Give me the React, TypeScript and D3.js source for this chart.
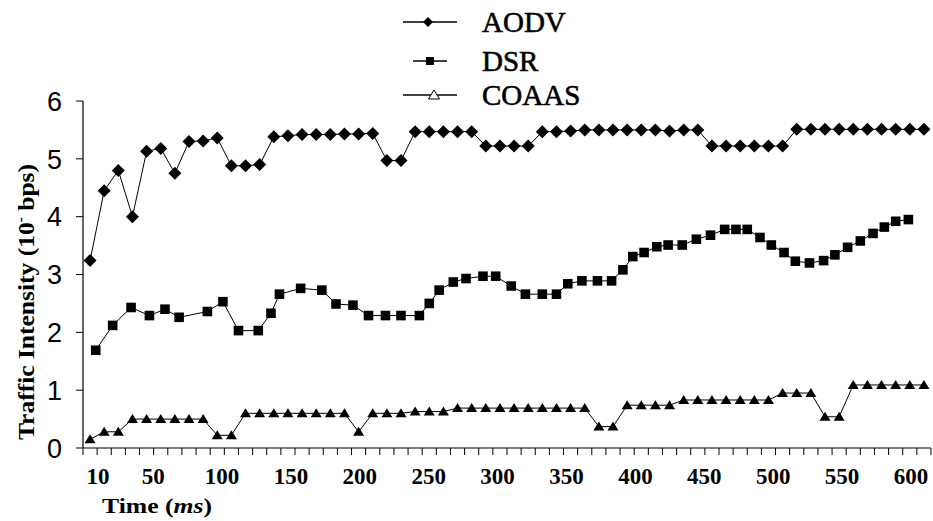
import * as d3 from 'd3';
import React from 'react';

// time categories (ms)
const times = [
  10, 20, 30, 40, 50, 60, 70, 80, 90, 100,
  110, 120, 130, 140, 150, 160, 170, 180, 190, 200,
  210, 220, 230, 240, 250, 260, 270, 280, 290, 300,
  310, 320, 330, 340, 350, 360, 370, 380, 390, 400,
  410, 420, 430, 440, 450, 460, 470, 480, 490, 500,
  510, 520, 530, 540, 550, 560, 570, 580, 590, 600,
];

const aodv = [
  3.24, 4.45, 4.80, 4.00, 5.13, 5.18, 4.75, 5.30, 5.31, 5.36,
  4.88, 4.88, 4.90, 5.38, 5.40, 5.42, 5.42, 5.42, 5.43, 5.43,
  5.44, 4.97, 4.97, 5.47, 5.47, 5.47, 5.47, 5.47, 5.22, 5.22,
  5.22, 5.22, 5.47, 5.47, 5.48, 5.50, 5.50, 5.50, 5.50, 5.50,
  5.50, 5.48, 5.50, 5.50, 5.22, 5.22, 5.22, 5.22, 5.22, 5.22,
  5.51, 5.51, 5.51, 5.51, 5.51, 5.51, 5.51, 5.51, 5.51, 5.51,
];

// DSR points are not on the category grid
const dsrTimes = [
  14, 26, 39, 52, 63, 73, 93, 104, 115, 129,
  138, 144, 159, 174, 184, 196, 207, 219, 230, 243,
  250, 257, 267, 276, 288, 297, 308, 318, 330, 340,
  348, 358, 369, 379, 387, 394, 402, 411, 419, 429,
  439, 449, 459, 467, 475, 484, 492, 501, 509, 519,
  529, 537, 546, 555, 564, 572, 580, 589,
];
const dsr = [
  1.69, 2.12, 2.43, 2.29, 2.40, 2.26, 2.36, 2.53, 2.03, 2.03,
  2.33, 2.66, 2.76, 2.73, 2.49, 2.47, 2.29, 2.29, 2.29, 2.29,
  2.50, 2.73, 2.87, 2.93, 2.97, 2.97, 2.80, 2.66, 2.66, 2.66,
  2.84, 2.89, 2.89, 2.89, 3.08, 3.31, 3.38, 3.48, 3.51, 3.51,
  3.61, 3.68, 3.78, 3.78, 3.78, 3.64, 3.51, 3.38, 3.23, 3.20,
  3.24, 3.34, 3.47, 3.58, 3.71, 3.82, 3.92, 3.95,
];

const coaas = [
  0.15, 0.28, 0.28, 0.50, 0.50, 0.50, 0.50, 0.50, 0.50, 0.22,
  0.22, 0.60, 0.60, 0.60, 0.60, 0.60, 0.60, 0.60, 0.60, 0.28,
  0.60, 0.60, 0.60, 0.63, 0.63, 0.63, 0.69, 0.69, 0.69, 0.69,
  0.69, 0.69, 0.69, 0.69, 0.69, 0.69, 0.37, 0.37, 0.74, 0.74,
  0.74, 0.74, 0.83, 0.83, 0.83, 0.83, 0.83, 0.83, 0.83, 0.95,
  0.95, 0.95, 0.54, 0.54, 1.09, 1.09, 1.09, 1.09, 1.09, 1.09,
];

const xTickLabels = [10, 50, 100, 150, 200, 250, 300, 350, 400, 450, 500, 550, 600];
const yTicks = [0, 1, 2, 3, 4, 5, 6];
const seriesNames = ['AODV', 'DSR', 'COAAS'];

const width = 933;
const height = 521;
const marginLeft = 83;
const marginRight = 2;
const marginTop = 101;
const marginBottom = 73;

const serifStyle = { fontFamily: "'Liberation Serif', 'Times New Roman', Times, serif" };
const narrowStyle = { fontFamily: "'Liberation Sans Narrow', 'Liberation Sans', Arial, sans-serif" };

const diamond = (cx, cy, r) => `M${cx},${cy - r}L${cx + r},${cy}L${cx},${cy + r}L${cx - r},${cy}Z`;
const square = (cx, cy, r) => `M${cx - r},${cy - r}h${2 * r}v${2 * r}h${-2 * r}Z`;
const triangle = (cx, cy, r) => `M${cx},${cy - r}L${cx + r * 1.1},${cy + r * 0.8}L${cx - r * 1.1},${cy + r * 0.8}Z`;

export default function App() {
  const x = d3.scaleLinear().domain([5, 605]).range([marginLeft, width - marginRight]);
  const y = d3.scaleLinear().domain([0, 6]).range([height - marginBottom, marginTop]);
  // labels were placed as a separate text row, slightly compressed
  const xLabel = d3.scaleLinear().domain([10, 600]).range([x(10) + 8, x(600) - 13]);

  const line = d3.line<[number, number]>().x(d => x(d[0])).y(d => y(d[1]));

  const aodvPts = times.map((t, i) => [t, aodv[i]] as [number, number]);
  const dsrPts = dsrTimes.map((t, i) => [t, dsr[i]] as [number, number]);
  const coaasPts = times.map((t, i) => [t, coaas[i]] as [number, number]);

  const xTicks = times.map(t => t - 5).concat([605]);
  const y0 = y(0);

  // legend rows
  const legendX = 430;
  const legendRows = [22, 61, 95];

  return (
    <svg width={width} height={height} style={{ position: 'absolute', left: 0, top: 0, background: '#fff' }}>
      {/* axes */}
      <line x1={x(5)} x2={x(605)} y1={y0} y2={y0} stroke="#000" strokeWidth={1.2} />
      <line x1={marginLeft} x2={marginLeft} y1={y(6)} y2={y0} stroke="#000" strokeWidth={1.2} />
      {xTicks.map(t => (
        <line key={'xt' + t} x1={x(t)} x2={x(t)} y1={y0} y2={y0 + 7} stroke="#000" strokeWidth={1} />
      ))}
      {yTicks.map(v => (
        <g key={'yt' + v}>
          <line x1={marginLeft - 7} x2={marginLeft} y1={y(v)} y2={y(v)} stroke="#000" strokeWidth={1} />
          <text x={marginLeft - 21} y={y(v)} dy="0.36em" textAnchor="end"
            style={narrowStyle} fontSize={27} fontWeight={300} fill="#000">{v}</text>
        </g>
      ))}
      {xTickLabels.map(v => (
        <text key={'xl' + v} x={xLabel(v)} y={484} textAnchor="middle"
          style={serifStyle} fontWeight="bold" fontSize={23} fill="#000">{v}</text>
      ))}

      {/* axis titles */}
      <text x={102} y={513} textLength={110} lengthAdjust="spacingAndGlyphs"
        style={serifStyle} fontWeight="bold" fontSize={21} fill="#000">
        Time (<tspan fontStyle="italic">ms</tspan>)
      </text>
      <text transform="translate(34,440) rotate(-90)" textLength={276} lengthAdjust="spacingAndGlyphs"
        style={serifStyle} fontWeight="bold" fontSize={23} fill="#000">
        Traffic Intensity (10<tspan dy={-9} fontSize={14}>-</tspan><tspan dy={9}> bps)</tspan>
      </text>

      {/* series */}
      <path d={line(aodvPts)} fill="none" stroke="#000" strokeWidth={1} />
      <path d={line(dsrPts)} fill="none" stroke="#000" strokeWidth={1} />
      <path d={line(coaasPts)} fill="none" stroke="#000" strokeWidth={1} />
      {aodvPts.map((d, i) => <path key={'a' + i} d={diamond(x(d[0]), y(d[1]), 6.5)} fill="#000" />)}
      {dsrPts.map((d, i) => <path key={'d' + i} d={square(x(d[0]), y(d[1]), 4.8)} fill="#000" />)}
      {coaasPts.map((d, i) => <path key={'c' + i} d={triangle(x(d[0]), y(d[1]), 5)} fill="#000" />)}

      {/* legend */}
      {seriesNames.map((name, i) => {
        const ly = legendRows[i];
        const half = i === 1 ? 17 : 27;
        return (
          <g key={name}>
            <line x1={legendX - half} x2={legendX + half} y1={ly} y2={ly} stroke="#000" strokeWidth={1.3} />
            {i === 0 && <path d={diamond(legendX - 2, ly, 5)} fill="#000" />}
            {i === 1 && <path d={square(legendX, ly, 4)} fill="#000" />}
            {i === 2 && <path d={triangle(legendX + 4, ly, 5)} fill="#fff" stroke="#000" strokeWidth={1} />}
            <text x={482} y={ly} dy="0.35em" style={serifStyle} fontSize={29} fill="#000"
              stroke="#000" strokeWidth={0.6}>{name}</text>
          </g>
        );
      })}
    </svg>
  );
}
